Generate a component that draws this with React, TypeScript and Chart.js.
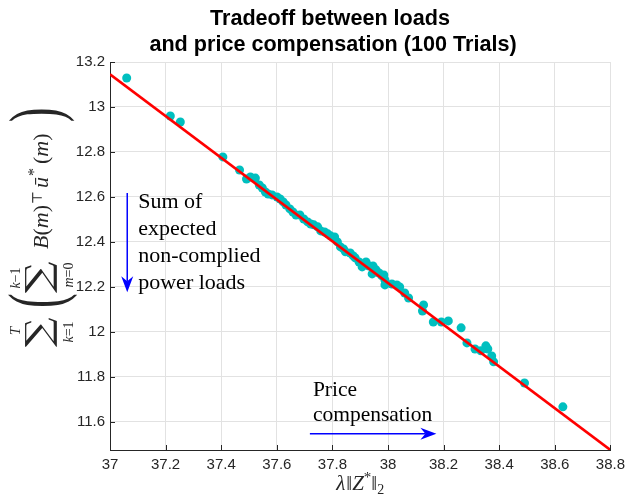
import React, { useEffect, useRef } from "react";
import { Chart, registerables } from "chart.js";

Chart.register(...registerables);

// ---------------- data ----------------
const titleLines = ["Tradeoff between loads", "and price compensation (100 Trials)"];
const xTickValues = [37, 37.2, 37.4, 37.6, 37.8, 38, 38.2, 38.4, 38.6, 38.8];
const yTickValues = [11.6, 11.8, 12, 12.2, 12.4, 12.6, 12.8, 13, 13.2];
const xRange = [37, 38.8];
const yRange = [11.475, 13.2];

const trialX = [
  37.06, 37.217, 37.253, 37.406, 37.466, 37.491, 37.505, 37.523, 37.537, 37.548,
  37.559, 37.569, 37.583, 37.601, 37.612, 37.623, 37.633, 37.647, 37.658, 37.669,
  37.683, 37.697, 37.711, 37.722, 37.733, 37.747, 37.758, 37.772, 37.783, 37.793,
  37.808, 37.818, 37.829, 37.84, 37.847, 37.864, 37.875, 37.882, 37.896, 37.907,
  37.921, 37.932, 37.946, 37.943, 37.957, 37.968, 37.978, 37.985, 37.989, 37.989,
  38.014, 38.032, 38.042, 38.06, 38.074, 38.128, 38.124, 38.163, 38.192, 38.217,
  38.263, 38.284, 38.313, 38.334, 38.359, 38.352, 38.373, 38.38, 38.491, 38.629,
];
const trialY = [
  13.129, 12.96, 12.933, 12.778, 12.72, 12.68, 12.689, 12.684, 12.653, 12.64,
  12.622, 12.613, 12.609, 12.6, 12.591, 12.578, 12.564, 12.547, 12.533, 12.52,
  12.52, 12.502, 12.489, 12.48, 12.476, 12.467, 12.449, 12.444, 12.436, 12.427,
  12.422, 12.4, 12.378, 12.369, 12.356, 12.351, 12.338, 12.329, 12.311, 12.289,
  12.311, 12.293, 12.293, 12.258, 12.276, 12.262, 12.249, 12.253, 12.231, 12.209,
  12.213, 12.209, 12.2, 12.173, 12.151, 12.12, 12.093, 12.044, 12.044, 12.049,
  12.018, 11.951, 11.924, 11.916, 11.924, 11.938, 11.893, 11.867, 11.773, 11.667,
];

const fitX = [37, 38.8];
const fitY = [13.145, 11.475];

const loadNote = ["Sum of", "expected", "non-complied", "power loads"];
const priceNote = ["Price", "compensation"];
// arrows in data coordinates: [x0, y0, x1, y1]
const loadArrow = [37.062, 12.618, 37.062, 12.176];
const priceArrow = [37.719, 11.547, 38.174, 11.547];

// ---------------- styles ----------------
const SANS = '"Liberation Sans", Arial, Helvetica, sans-serif';
const SERIF = '"Liberation Serif", "DejaVu Serif", "Times New Roman", serif';
const AXIS = "#262626";

const fmt = (v: number) => String(Number(v.toFixed(2)));

type Run = { t: string; f: string; dy?: number; dx?: number };

function drawRuns(ctx: CanvasRenderingContext2D, runs: Run[], x: number, y: number, align: "left" | "center") {
  ctx.save();
  ctx.textAlign = "left";
  ctx.textBaseline = "alphabetic";
  let total = 0;
  for (const r of runs) {
    ctx.font = r.f;
    total += ctx.measureText(r.t).width + (r.dx || 0);
  }
  let cx = align === "center" ? x - total / 2 : x;
  for (const r of runs) {
    ctx.font = r.f;
    cx += r.dx || 0;
    ctx.fillText(r.t, cx, y + (r.dy || 0));
    cx += ctx.measureText(r.t).width;
  }
  ctx.restore();
}

function fitGlyph(ctx: CanvasRenderingContext2D, text: string, font: string, cx: number, cy: number, w: number, h: number) {
  ctx.save();
  ctx.font = font;
  ctx.textAlign = "left";
  ctx.textBaseline = "alphabetic";
  const m = ctx.measureText(text);
  const bw = m.actualBoundingBoxLeft + m.actualBoundingBoxRight;
  const bh = m.actualBoundingBoxAscent + m.actualBoundingBoxDescent;
  ctx.translate(cx, cy);
  ctx.scale(w / bw, h / bh);
  ctx.fillText(
    text,
    (m.actualBoundingBoxLeft - m.actualBoundingBoxRight) / 2,
    (m.actualBoundingBoxAscent - m.actualBoundingBoxDescent) / 2
  );
  ctx.restore();
}

function arrow(ctx: CanvasRenderingContext2D, x0: number, y0: number, x1: number, y1: number) {
  const ang = Math.atan2(y1 - y0, x1 - x0);
  const L = 16;
  const W = 6;
  const notch = 11;
  ctx.save();
  ctx.strokeStyle = "#0000ff";
  ctx.fillStyle = "#0000ff";
  ctx.lineWidth = 1.5;
  ctx.beginPath();
  ctx.moveTo(x0, y0);
  ctx.lineTo(x1 - Math.cos(ang) * notch, y1 - Math.sin(ang) * notch);
  ctx.stroke();
  ctx.translate(x1, y1);
  ctx.rotate(ang);
  ctx.beginPath();
  ctx.moveTo(0, 0);
  ctx.lineTo(-L, -W);
  ctx.lineTo(-notch, 0);
  ctx.lineTo(-L, W);
  ctx.closePath();
  ctx.fill();
  ctx.restore();
}

function drawYLabel(ctx: CanvasRenderingContext2D) {
  ctx.save();
  ctx.translate(41, 227);
  ctx.rotate(-Math.PI / 2);
  ctx.fillStyle = AXIS;
  const it = (s: number) => `italic ${s}px ${SERIF}`;
  const up = (s: number) => `${s}px ${SERIF}`;
  // outer sum
  drawRuns(ctx, [{ t: "T", f: it(15) }], -104, -21, "center");
  fitGlyph(ctx, "∑", `40px "DejaVu Serif", serif`, -105, 0, 30, 32);
  drawRuns(ctx, [{ t: "k", f: it(14) }, { t: "=1", f: up(14) }], -105, 32, "center");
  // left paren
  fitGlyph(ctx, "(", `70px ${SERIF}`, -73, 1, 12, 70);
  // inner sum
  drawRuns(ctx, [{ t: "k", f: it(14) }, { t: "−1", f: up(14) }], -51, -21, "center");
  fitGlyph(ctx, "∑", `40px "DejaVu Serif", serif`, -50, 0, 32, 32);
  drawRuns(ctx, [{ t: "m", f: it(14) }, { t: "=0", f: up(14) }], -48, 32, "center");
  // B(m)^T u*(m)
  drawRuns(
    ctx,
    [
      { t: "B", f: it(22) },
      { t: "(", f: up(22) },
      { t: "m", f: it(22) },
      { t: ")", f: up(22) },
    ],
    -22,
    7,
    "left"
  );
  drawRuns(ctx, [{ t: "⊤", f: `14px "DejaVu Serif", serif` }], 29, 1, "center");
  drawRuns(ctx, [{ t: "ū", f: it(22) }], 39, 7, "left");
  drawRuns(ctx, [{ t: "*", f: up(16) }], 55, -2, "center");
  drawRuns(
    ctx,
    [
      { t: "(", f: up(22) },
      { t: "m", f: it(22) },
      { t: ")", f: up(22) },
    ],
    63,
    7,
    "left"
  );
  fitGlyph(ctx, ")", `70px ${SERIF}`, 112, 0, 12, 66);
  ctx.restore();
}

const decorations = {
  id: "decorations",
  afterDraw(chart: any) {
    const ctx: CanvasRenderingContext2D = chart.ctx;
    const xs = chart.scales.x;
    const ys = chart.scales.y;
    const area = chart.chartArea;

    // inward tick marks
    ctx.save();
    ctx.strokeStyle = AXIS;
    ctx.lineWidth = 1;
    ctx.beginPath();
    for (const v of xTickValues) {
      const px = Math.round(xs.getPixelForValue(v)) + 0.5;
      ctx.moveTo(px, area.bottom);
      ctx.lineTo(px, area.bottom - 5);
    }
    for (const v of yTickValues) {
      const py = Math.round(ys.getPixelForValue(v)) + 0.5;
      ctx.moveTo(area.left, py);
      ctx.lineTo(area.left + 5, py);
    }
    ctx.stroke();
    ctx.restore();

    // title
    ctx.save();
    ctx.fillStyle = "#000";
    ctx.font = `bold 21.6px ${SANS}`;
    ctx.textAlign = "center";
    ctx.textBaseline = "alphabetic";
    ctx.fillText(titleLines[0], 330, 25);
    ctx.fillText(titleLines[1], 333, 51);
    ctx.restore();

    // x label
    ctx.save();
    ctx.fillStyle = AXIS;
    const it = (s: number) => `italic ${s}px ${SERIF}`;
    const up = (s: number) => `${s}px ${SERIF}`;
    drawRuns(
      ctx,
      [
        { t: "λ", f: it(21) },
        { t: "‖", f: up(21), dx: 1 },
        { t: "Z", f: it(21) },
        { t: "*", f: up(15), dy: -8 },
        { t: "‖", f: up(21) },
        { t: "2", f: up(14), dy: 4 },
      ],
      (area.left + area.right) / 2,
      490,
      "center"
    );
    ctx.restore();

    drawYLabel(ctx);

    // annotations
    const a1 = loadArrow.map((v, i) => (i % 2 === 0 ? xs.getPixelForValue(v) : ys.getPixelForValue(v)));
    const a2 = priceArrow.map((v, i) => (i % 2 === 0 ? xs.getPixelForValue(v) : ys.getPixelForValue(v)));
    arrow(ctx, a1[0], a1[1], a1[2], a1[3]);
    arrow(ctx, a2[0], a2[1], a2[2], a2[3]);

    ctx.save();
    ctx.fillStyle = "#000";
    ctx.font = `22px ${SERIF}`;
    ctx.textAlign = "left";
    ctx.textBaseline = "alphabetic";
    loadNote.forEach((s, i) => ctx.fillText(s, a1[0] + 11, a1[1] + 15 + i * 27));
    ctx.font = `21.5px ${SERIF}`;
    priceNote.forEach((s, i) => ctx.fillText(s, a2[0] + 3, a2[1] - 38 + i * 25));
    ctx.restore();
  },
};

export default function App() {
  const ref = useRef<HTMLCanvasElement | null>(null);

  useEffect(() => {
    if (!ref.current) return;
    const tickFont = { family: SANS, size: 15 };
    const chart = new Chart(ref.current, {
      type: "scatter",
      data: {
        datasets: [
          {
            label: "fit",
            data: fitX.map((x, i) => ({ x, y: fitY[i] })),
            showLine: true,
            borderColor: "#ff0000",
            borderWidth: 2.6,
            pointRadius: 0,
            fill: false,
          },
          {
            label: "trials",
            data: trialX.map((x, i) => ({ x, y: trialY[i] })),
            showLine: false,
            pointRadius: 4.5,
            pointBackgroundColor: "#00bfbf",
            pointBorderWidth: 0,
            borderColor: "#00bfbf",
          },
        ],
      },
      options: {
        animation: false,
        responsive: false,
        events: [],
        layout: { padding: { top: 62, right: 15, left: 0, bottom: 0 } },
        plugins: {
          legend: { display: false },
          title: { display: false },
          tooltip: { enabled: false },
        },
        scales: {
          x: {
            type: "linear",
            min: xRange[0],
            max: xRange[1],
            afterBuildTicks: (s: any) => {
              s.ticks = xTickValues.map((v) => ({ value: v }));
            },
            afterFit: (s: any) => {
              s.height = 48;
            },
            ticks: {
              font: tickFont,
              color: AXIS,
              padding: 6,
              maxRotation: 0,
              autoSkip: false,
              callback: (v: any) => fmt(Number(v)),
            },
            grid: { color: "#e2e2e2", drawTicks: false, lineWidth: 1 },
            border: { color: AXIS, width: 1 },
          },
          y: {
            type: "linear",
            min: yRange[0],
            max: yRange[1],
            afterBuildTicks: (s: any) => {
              s.ticks = yTickValues.map((v) => ({ value: v }));
            },
            afterFit: (s: any) => {
              s.width = 110;
            },
            ticks: {
              font: tickFont,
              color: AXIS,
              padding: 5,
              autoSkip: false,
              callback: (v: any) => fmt(Number(v)),
            },
            grid: { color: "#e2e2e2", drawTicks: false, lineWidth: 1 },
            border: { color: AXIS, width: 1 },
          },
        },
      },
      plugins: [decorations],
    } as any);
    return () => chart.destroy();
  }, []);

  return (
    <div style={{ position: "fixed", left: 0, top: 0, width: 631, height: 498, background: "#fff" }}>
      <canvas ref={ref} width={631} height={498} style={{ display: "block" }} />
    </div>
  );
}
